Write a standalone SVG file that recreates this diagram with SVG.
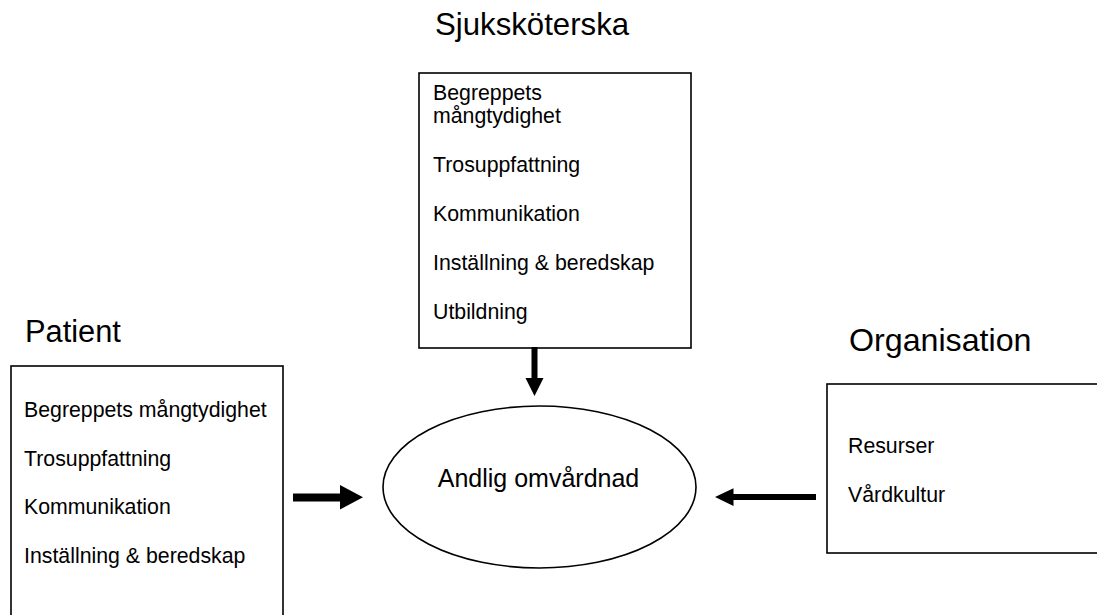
<svg xmlns="http://www.w3.org/2000/svg" width="1097" height="615" viewBox="0 0 1097 615">
<style>
.box{fill:#fff;stroke:#000;stroke-width:1.6}
.t{font-family:"Liberation Sans",Arial,sans-serif;font-size:21.3px;fill:#000}
.h{font-family:"Liberation Sans",Arial,sans-serif;font-size:31.2px;fill:#000}
.c{font-family:"Liberation Sans",Arial,sans-serif;font-size:25px;fill:#000}
.ar{fill:#000}
</style>
<rect width="1097" height="615" fill="#fff"/>
<g id="sjukskoterska">
<text class="h" x="435" y="35">Sjuksköterska</text>
<rect class="box" x="419" y="73" width="272" height="275"/>
<text class="t" x="433" y="100">Begreppets</text>
<text class="t" x="433" y="123">mångtydighet</text>
<text class="t" x="433" y="172">Trosuppfattning</text>
<text class="t" x="433" y="221">Kommunikation</text>
<text class="t" x="433" y="270">Inställning &amp; beredskap</text>
<text class="t" x="433" y="319">Utbildning</text>
</g>
<g id="patient">
<text class="h" x="25" y="342" style="font-size:30.8px">Patient</text>
<rect class="box" x="11" y="366" width="272" height="270"/>
<text class="t" x="24" y="417">Begreppets mångtydighet</text>
<text class="t" x="24" y="466">Trosuppfattning</text>
<text class="t" x="24" y="514">Kommunikation</text>
<text class="t" x="24" y="563">Inställning &amp; beredskap</text>
</g>
<g id="organisation">
<text class="h" x="849" y="351" style="font-size:32.2px">Organisation</text>
<rect class="box" x="827" y="384" width="290" height="169"/>
<text class="t" x="848" y="453">Resurser</text>
<text class="t" x="848" y="502">Vårdkultur</text>
</g>
<g id="andlig">
<ellipse class="box" cx="539.5" cy="487" rx="156.5" ry="81"/>
<text class="c" x="538.5" y="487" text-anchor="middle">Andlig omvårdnad</text>
</g>
<g id="connectors">
<path class="ar" d="M531.5,347 H537.5 V378 H543.5 L534.5,396 L525.5,378 H531.5 Z"/>
<path class="ar" d="M293,493.5 H340 V485 L363,497.3 L340,509.5 V501.5 H293 Z"/>
<path class="ar" d="M816,494 H733.5 V488.3 L715,497 L733.5,506 V500 H816 Z"/>
</g>
</svg>
